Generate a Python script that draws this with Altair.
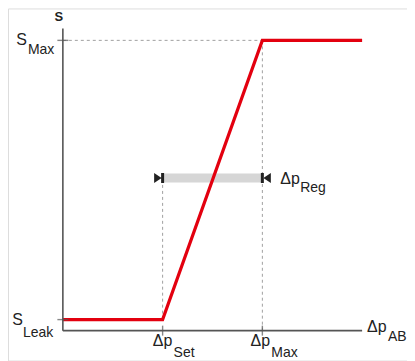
import altair as alt
import pandas as pd

# ---- data (conceptual units: Δp_Set = 1, Δp_Max = 2, S_Max = 1) ----
curve_x = [0, 1, 2, 3]
curve_y = [0.038, 0.038, 1.0, 1.0]
x_axis_end = 3
y_axis_top = 1.041
s_leak = 0.038
s_max = 1.0
dp_set = 1
dp_max = 2
band_y = 0.526

XD = [-0.55, 3.45]
YD = [-0.1031, 1.110]
FONT = "Liberation Sans"
TXT = "#222222"
AX = "#555555"


def X(field="x"):
    return alt.X(f"{field}:Q", scale=alt.Scale(domain=XD, nice=False, zero=False), axis=None)


def Y(field="y"):
    return alt.Y(f"{field}:Q", scale=alt.Scale(domain=YD, nice=False, zero=False), axis=None)


layers = []

# dashed guide lines
guides = pd.DataFrame({
    "x": [0, dp_max, dp_set],
    "x2": [dp_max, dp_max, dp_set],
    "y": [s_max, 0, s_leak],
    "y2": [s_max, s_max, band_y],
})
layers.append(
    alt.Chart(guides).mark_rule(color="#a0a0a0", strokeDash=[3, 3], strokeWidth=1).encode(
        x=X(), x2="x2:Q", y=Y(), y2="y2:Q"
    )
)

# grey regulation band
band = pd.DataFrame({"x": [dp_set], "x2": [dp_max], "y": [band_y]})
layers.append(
    alt.Chart(band).mark_rule(color="#d6d6d6", strokeWidth=9, strokeCap="butt").encode(
        x=X(), x2="x2:Q", y=Y()
    )
)

# red characteristic curve
curve = pd.DataFrame({"x": curve_x, "y": curve_y, "o": list(range(len(curve_x)))})
layers.append(
    alt.Chart(curve).mark_line(color="#e3000f", strokeWidth=3.2, strokeJoin="miter").encode(
        x=X(), y=Y(), order="o:Q"
    )
)

# axes
axes = pd.DataFrame({"x": [0, 0], "x2": [0, x_axis_end], "y": [0, 0], "y2": [y_axis_top, 0]})
layers.append(
    alt.Chart(axes).mark_rule(color=AX, strokeWidth=1.6).encode(x=X(), x2="x2:Q", y=Y(), y2="y2:Q")
)

# ticks
yt = pd.DataFrame({"x": [0, 0], "y": [s_max, s_leak]})
layers.append(
    alt.Chart(yt).mark_tick(orient="horizontal", color=AX, size=11, thickness=1.4).encode(x=X(), y=Y())
)
xt = pd.DataFrame({"x": [dp_set, dp_max], "y": [0, 0]})
layers.append(
    alt.Chart(xt).mark_tick(orient="vertical", color=AX, size=10, thickness=1.4).encode(x=X(), y=Y())
)

# dimension arrow markers
left_marker = "M-1.7,-1L-0.2,0L-1.7,1Z M-0.3,-1L0.3,-1L0.3,1L-0.3,1Z"
right_marker = "M1.7,-1L0.2,0L1.7,1Z M-0.3,-1L0.3,-1L0.3,1L-0.3,1Z"
for xv, shp in [(dp_set, left_marker), (dp_max, right_marker)]:
    layers.append(
        alt.Chart(pd.DataFrame({"x": [xv], "y": [band_y]}))
        .mark_point(shape=shp, filled=True, color="#222222", size=100, opacity=1, strokeWidth=0)
        .encode(x=X(), y=Y())
    )


def text_layer(x, y, text, align, dx, dy, size, bold=False):
    return alt.Chart(pd.DataFrame({"x": [x], "y": [y], "t": [text]})).mark_text(
        align=align, baseline="alphabetic", dx=dx, dy=dy, fontSize=size, font=FONT,
        color=TXT, fontWeight="bold" if bold else "normal"
    ).encode(x=X(), y=Y(), text="t:N")


MS, SS = 16, 14
# y-axis title
layers.append(text_layer(0, y_axis_top, "S", "center", -4, -7, 13, bold=True))
# S_Max
layers.append(text_layer(0, s_max, "S", "right", -36, 5, MS))
layers.append(text_layer(0, s_max, "Max", "left", -35, 14, SS))
# S_Leak
layers.append(text_layer(0, s_leak, "S", "right", -40, 5, MS))
layers.append(text_layer(0, s_leak, "Leak", "left", -40, 17, SS))
# Δp_Set
layers.append(text_layer(dp_set, 0, "Δp", "center", 0, 15, MS))
layers.append(text_layer(dp_set, 0, "Set", "left", 11, 26, SS))
# Δp_Max
layers.append(text_layer(dp_max, 0, "Δp", "center", -2, 15, MS))
layers.append(text_layer(dp_max, 0, "Max", "left", 9, 26, SS))
# Δp_AB
layers.append(text_layer(x_axis_end, 0, "Δp", "left", 5, 1, MS))
layers.append(text_layer(x_axis_end, 0, "AB", "left", 26, 10, SS))
# Δp_Reg
layers.append(text_layer(dp_max, band_y, "Δp", "left", 18, 6, MS))
layers.append(text_layer(dp_max, band_y, "Reg", "left", 38, 14, SS))

chart = alt.layer(*layers).properties(
    width=400, height=353, padding=0, autosize=alt.AutoSizeParams(type="none")
).configure_view(stroke=None).configure(background="white")

chart.save("out.html", embed_options={"renderer": "svg", "actions": False})
